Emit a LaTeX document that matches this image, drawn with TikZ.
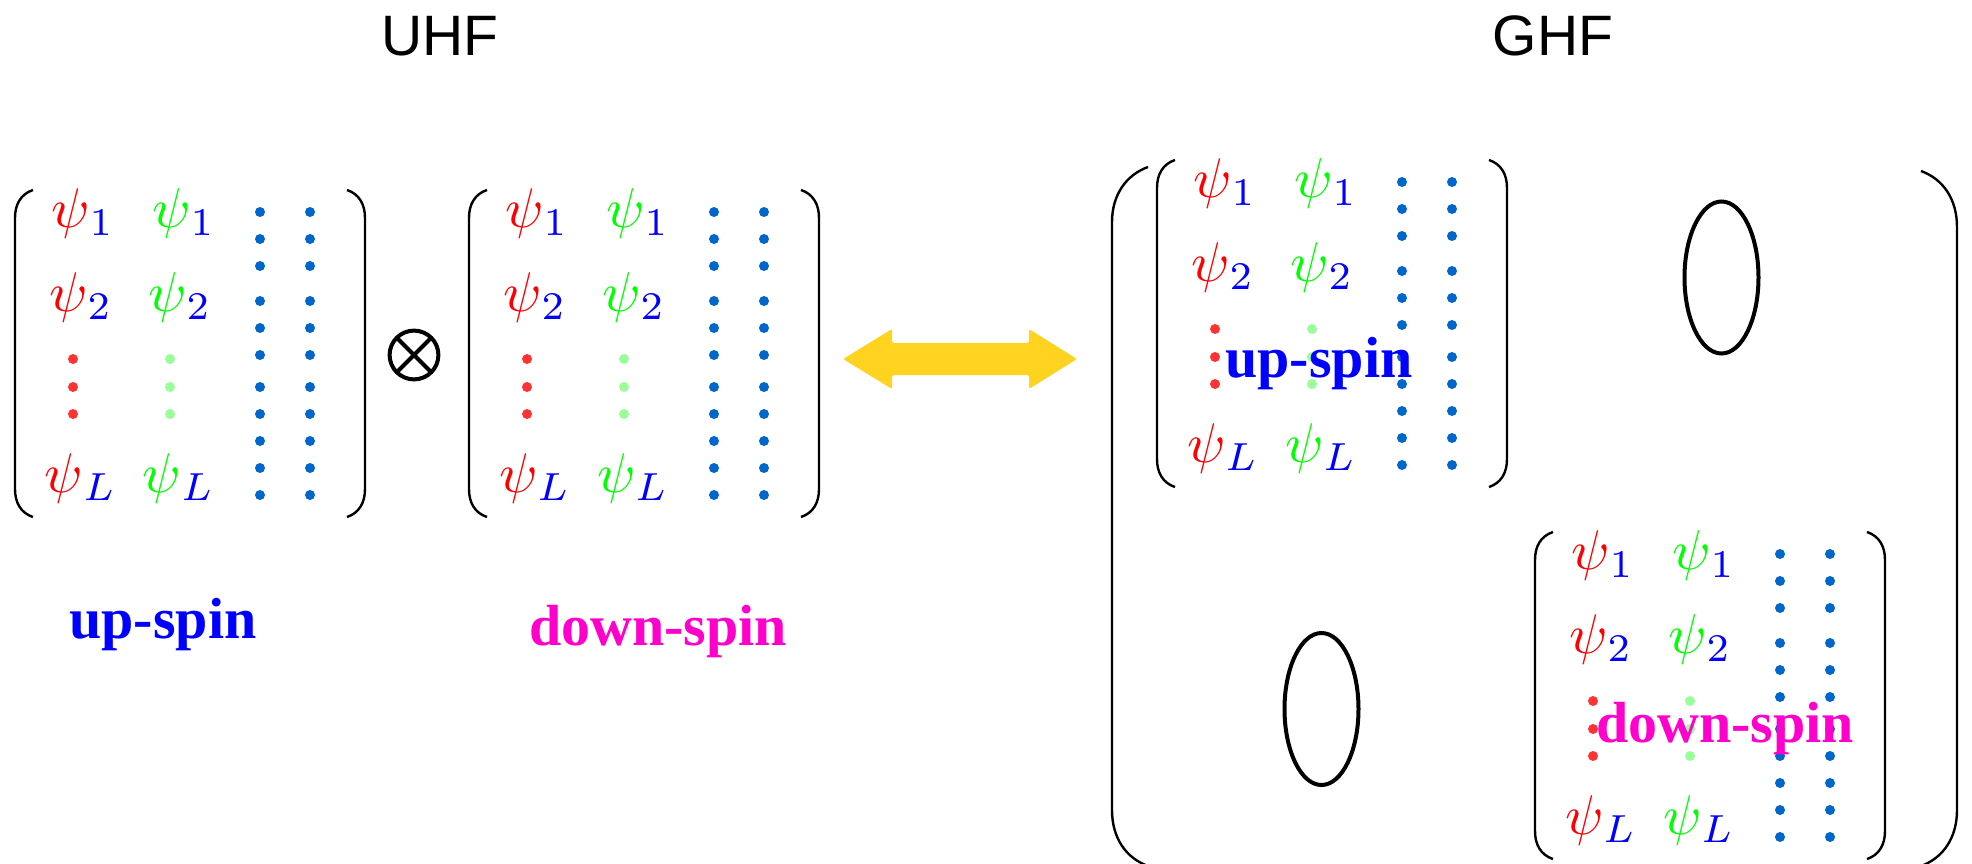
\documentclass[tikz,border=0pt]{standalone}
\usepackage{fontspec}
\usetikzlibrary{calc}
\newfontfamily\labsans{Liberation Sans}
\newfontfamily\labserif{Liberation Serif}
\definecolor{psired}{HTML}{FF0000}
\definecolor{psigreen}{HTML}{00FF00}
\definecolor{subblue}{HTML}{0000FF}
\definecolor{dotred}{HTML}{FF3333}
\definecolor{dotgreen}{HTML}{99FF99}
\definecolor{dotblue}{HTML}{0066CC}
\definecolor{spinmag}{HTML}{FF00CC}
\definecolor{arrowyel}{HTML}{FFD320}
\tikzset{
  brk/.style={line width=1.2pt, black},
  ent/.style={anchor=base, inner sep=0pt},
  title/.style={anchor=base, inner sep=0pt, font=\labsans\fontsize{28.5}{34}\selectfont},
  spinlab/.style={anchor=base, inner sep=0pt, font=\labserif\bfseries\fontsize{29}{34}\selectfont},
}
\newcommand\pp[2]{\scalebox{2.8}{$\textcolor{#1}{\psi}_{\textcolor{subblue}{#2}}$}}
\newcommand\psimatrix[3]{%
  \draw[brk] ({#1+18},{#2}) .. controls ({#1+6},{#2+4}) and ({#1},{#2+14}) .. ({#1},{#2+28}) -- ({#1},{#2+299}) .. controls ({#1},{#2+313}) and ({#1+6},{#2+323}) .. ({#1+18},{#2+327});
  \draw[brk] ({#1+332},{#2}) .. controls ({#1+344},{#2+4}) and ({#1+350},{#2+14}) .. ({#1+350},{#2+28}) -- ({#1+350},{#2+299}) .. controls ({#1+350},{#2+313}) and ({#1+344},{#2+323}) .. ({#1+332},{#2+327});
  \node[ent] (#3r1) at ({#1+68},{#2+37}) {\pp{psired}{1}};
  \node[ent] (#3r2) at ({#1+66},{#2+121}) {\pp{psired}{2}};
  \node[ent] (#3rL) at ({#1+66},{#2+302}) {\pp{psired}{L}};
  \node[ent] (#3g1) at ({#1+169},{#2+37}) {\pp{psigreen}{1}};
  \node[ent] (#3g2) at ({#1+165},{#2+121}) {\pp{psigreen}{2}};
  \node[ent] (#3gL) at ({#1+164},{#2+302}) {\pp{psigreen}{L}};
  \foreach \yy in {22,49,76,111,138,165,197,224,251,278,305} {
    \fill[dotblue] ({#1+245},{#2+\yy}) circle[radius=2.5pt];
    \fill[dotblue] ({#1+295},{#2+\yy}) circle[radius=2.5pt];
  }
  \foreach \yy in {169,197,224} {
    \fill[dotred] ({#1+58},{#2+\yy}) circle[radius=2.5pt];
    \fill[dotgreen] ({#1+155},{#2+\yy}) circle[radius=2.5pt];
  }
}
\begin{document}
\begin{tikzpicture}[x=0.5pt, y=-0.5pt]
\useasboundingbox (0,0) rectangle (1972,863);
% titles
\node[title] (uhf) at (440,55) {UHF};
\node[title] (ghf) at (1553,55) {GHF};
% UHF matrices
\psimatrix{15}{190}{A}
\psimatrix{469}{190}{B}
\draw[line width=2pt] (414,355) circle[radius=12.2pt];
\draw[line width=2pt] ($(414,355)+(-8.6pt,-8.6pt)$) -- ($(414,355)+(8.6pt,8.6pt)$);
\draw[line width=2pt] ($(414,355)+(-8.6pt,8.6pt)$) -- ($(414,355)+(8.6pt,-8.6pt)$);
\node[spinlab, text=subblue] (upl) at (163,638) {up-spin};
\node[spinlab, text=spinmag] (downl) at (658,645) {down-spin};
% double arrow
\fill[arrowyel, rounded corners=1pt] (843,359) -- (892,329) -- (892,343) -- (1029,343) -- (1029,329) -- (1077,359) -- (1029,389) -- (1029,375) -- (892,375) -- (892,389) -- cycle;
% GHF big brackets
\draw[brk] (1148,167) .. controls (1126,175) and (1112,195) .. (1112,222) -- (1112,810) .. controls (1112,838) and (1126,858) .. (1148,866);
\draw[brk] (1921,171) .. controls (1943,179) and (1957,199) .. (1957,227) -- (1957,810) .. controls (1957,838) and (1943,858) .. (1921,866);
\psimatrix{1157}{160}{C}
\psimatrix{1535}{532}{D}
\node[spinlab, text=subblue] (upin) at (1319,377) {up-spin};
\node[spinlab, text=spinmag] (downin) at (1725,742) {down-spin};
% zero blocks
\draw[line width=2pt] (1721.5,277.5) ellipse[x radius=18.5pt, y radius=38pt];
\draw[line width=2pt] (1321.5,709) ellipse[x radius=18.5pt, y radius=38pt];
\end{tikzpicture}
\end{document}
